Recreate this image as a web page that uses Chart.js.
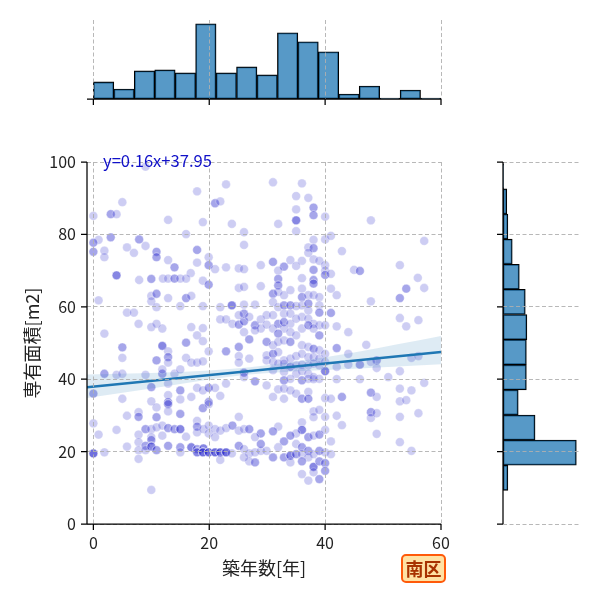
<!DOCTYPE html>
<html><head><meta charset="utf-8">
<script src="https://cdn.jsdelivr.net/npm/chart.js@4.4.1/dist/chart.umd.min.js"></script>
<style>
html,body{margin:0;padding:0;background:#fff;}
#wrap{position:relative;width:600px;height:600px;overflow:hidden;background:#fff;}
canvas{position:absolute;left:0;top:0;width:600px;height:600px;}
.eq{position:absolute;left:103px;top:150px;font-size:16.6px;font-family:'Noto Sans CJK JP','Noto Sans',sans-serif;color:#1010c8;line-height:20px;white-space:nowrap;}
.tag{position:absolute;left:401px;top:554px;width:45px;height:29px;box-sizing:border-box;border:2.5px solid #ff5a0a;border-radius:5px;background:#ffe2a4;color:#a83200;font-weight:bold;font-size:18px;font-family:'Noto Sans CJK JP',sans-serif;line-height:24px;text-align:center;}
</style></head>
<body><div id="wrap">
<canvas id="main" width="600" height="600"></canvas>
<canvas id="top" width="600" height="600"></canvas>
<canvas id="right" width="600" height="600"></canvas>
<div class="eq">y=0.16x+37.95</div>
<div class="tag">南区</div>
</div>
<script>
// ---- scatter data: building age [years], floor area [m2], number of overlapping points ----
const age = [
 9.0,22.9,17.9,5.0,21.0,21.9,0,3.0,4.0,12.9,
 18.9,23.9,16.0,26.0,0.9,0,3.0,7.9,9.0,5.8,
 26.0,0,1.9,1.9,7.0,10.9,10.9,17.9,12.9,17.9,
 19.9,19.9,14.0,21.0,22.9,25.1,26.0,28.9,16.8,4.0,
 7.9,10.0,12.0,12.9,14.0,15.0,16.0,18.9,
 31.0,36.0,35.0,37.1,35.0,38.0,38.0,35.0,40.0,31.9,
 47.9,35.0,38.0,40.0,41.0,57.1,37.1,38.0,37.1,42.9,
 31.0,34.0,36.0,38.0,39.0,32.9,35.0,31.9,40.0,38.0,
 40.0,45.0,46.0,52.9,31.9,36.0,38.0,40.0,41.0,56.0,
 19.9,25.1,26.0,28.9,0.9,10.0,10.9,10.0,12.9,16.0,
 16.9,10.9,15.0,18.9,21.9,23.9,26.0,27.9,5.8,7.0,
 7.8,10.0,10.9,11.9,16.9,18.9,21.9,22.9,24.0,25.1,
 26.0,26.0,25.1,26.9,27.9,28.9,28.9,29.9,27.9,1.9,
 17.9,18.9,26.0,26.9,29.9,11.9,16.0,5.0,5.0,12.9,
 12.9,12.9,10.9,16.0,16.9,17.9,18.9,19.9,22.9,25.1,
 25.1,25.1,26.9,29.9,1.9,4.0,5.0,9.0,11.9,11.9,
 14.0,15.0,26.0,26.0,0,10.0,12.9,15.0,17.9,18.9,
 19.9,21.0,21.9,22.9,27.9,5.0,10.0,12.9,12.9,15.0,
 16.9,19.9,
 54.0,57.1,52.9,47.9,41.0,42.0,41.0,52.9,54.0,56.1,
 42.0,44.0,47.1,42.0,44.0,46.0,48.9,47.9,48.9,54.9,
 56.1,52.9,50.9,57.1,52.9,54.9,47.9,48.9,46.0,42.0,
 44.0,42.0,52.9,54.0,42.9,40.0,
 31.9,31.0,31.9,32.9,34.0,36.0,36.0,37.1,38.0,38.0,
 39.0,31.0,31.9,32.9,34.0,35.0,36.0,37.1,37.1,39.0,
 39.0,32.9,34.0,36.0,37.1,31.9,32.9,34.0,35.0,29.9,
 31.0,38.0,39.0,40.0,31.0,32.9,34.0,36.0,37.1,38.0,
 31.9,35.0,39.0,31.0,31.9,32.9,34.0,36.0,37.1,38.0,
 39.0,29.9,31.0,31.9,32.9,34.0,35.0,36.0,37.1,38.0,
 39.0,40.0,31.0,31.9,32.9,34.0,35.0,36.0,37.1,38.0,
 39.0,40.0,31.0,32.9,35.0,36.0,37.1,38.0,39.0,32.9,
 34.0,36.0,37.1,38.0,31.9,32.9,34.0,35.0,37.1,31.0,
 32.9,36.0,37.1,40.0,41.0,29.9,
 0,0.9,4.0,5.8,7.8,7.8,10.9,10.9,12.9,12.9,
 15.0,18.9,19.9,17.9,9.0,10.0,10.9,11.9,12.9,14.0,
 15.0,7.8,10.0,10.0,11.9,12.9,16.0,17.9,17.9,19.0,
 19.9,19.9,21.0,21.0,21.9,22.9,24.0,25.1,25.1,26.0,
 26.9,28.9,27.9,0,1.9,5.8,7.8,7.8,7.8,9.0,
 10.0,10.9,9.0,12.9,15.0,15.0,16.9,17.9,19.0,17.9,
 18.9,19.9,21.0,21.9,22.9,23.9,21.9,25.1,26.0,26.9,
 27.9,28.9,29.9,26.9,27.9,26.0,28.9,10.0,
 38.0,39.0,38.0,42.0,42.9,40.0,47.9,47.9,48.9,52.9,
 56.1,48.9,52.9,54.9,36.0,31.9,31.0,36.0,37.1,35.0,
 34.0,32.9,38.0,39.0,40.0,41.0,31.9,31.0,32.9,34.0,
 34.0,35.0,35.0,36.0,36.0,37.1,37.1,38.0,39.0,40.0,
 41.0,36.0,38.0,39.0,40.0,40.0,36.0,37.1,39.0,38.0
];
const area = [
 98.7,93.8,91.9,88.9,88.6,89.1,85.1,85.6,85.6,84.0,
 83.4,82.9,80.1,80.6,78.5,77.7,79.2,78.6,76.8,76.4,
 77.1,75.2,75.5,73.7,74.9,75.2,73.7,75.7,72.9,72.2,
 73.7,71.5,70.9,70.4,70.9,70.6,70.4,71.5,69.3,68.7,
 67.4,67.7,67.8,67.8,67.8,67.8,67.8,67.2,
 94.4,94.1,90.6,90.1,86.9,87.4,85.3,83.9,84.9,82.9,
 83.9,80.9,78.5,78.6,79.6,78.2,76.4,76.2,74.9,75.4,
 72.4,72.9,72.7,73.1,72.7,71.1,71.3,70.0,71.5,70.2,
 70.0,70.2,69.9,71.5,67.7,67.9,67.4,68.8,69.1,68.0,
 66.1,65.2,65.5,65.7,61.8,63.0,63.6,61.5,62.4,62.4,
 63.0,59.9,60.2,60.2,59.9,60.4,60.6,60.6,58.4,58.4,
 55.3,54.4,55.3,54.0,54.4,54.1,56.5,56.5,55.3,55.1,
 56.0,58.1,57.7,57.2,54.9,56.5,54.0,55.1,53.5,52.6,
 52.1,50.5,53.0,51.0,50.3,49.2,50.1,48.8,45.9,47.7,
 46.1,44.6,45.2,45.9,44.6,44.6,44.9,47.7,47.7,48.9,
 46.4,44.6,45.7,45.2,41.5,41.2,41.5,41.2,41.5,42.7,
 41.5,42.7,41.8,40.6,36.0,37.8,38.8,36.9,37.6,36.9,
 37.6,37.6,35.4,38.8,39.4,34.6,33.9,35.6,33.7,34.4,
 35.1,33.7,
 65.0,65.2,62.4,61.5,65.0,63.2,58.3,56.9,54.6,56.3,
 54.6,53.0,49.5,48.6,47.0,44.0,45.2,44.8,43.1,45.9,
 46.4,42.2,40.6,39.0,37.4,36.9,36.3,35.1,40.0,40.0,
 44.0,43.4,33.9,34.2,35.1,42.2,
 65.9,63.6,64.1,63.2,64.6,65.0,62.7,63.2,66.4,63.2,
 62.7,61.3,59.9,60.4,60.4,60.2,60.4,60.9,59.0,60.4,
 58.4,58.1,58.1,57.2,56.7,55.3,55.8,55.3,56.7,57.7,
 57.7,55.3,54.9,54.9,54.0,54.0,53.0,54.0,54.9,54.0,
 52.6,52.1,52.1,49.4,50.3,50.7,50.3,49.4,48.9,48.4,
 48.0,46.6,47.0,47.5,45.2,45.7,46.4,47.0,46.1,46.1,
 45.7,47.0,44.8,44.3,44.3,43.4,43.8,44.0,43.8,44.3,
 43.8,44.8,42.5,42.0,41.5,42.2,41.5,40.6,40.1,39.7,
 40.1,39.7,40.1,40.0,37.2,37.4,36.9,36.0,36.5,35.1,
 34.6,34.6,34.6,34.8,34.6,38.3,
 27.8,24.7,26.0,29.9,30.9,29.6,32.2,29.5,33.1,31.1,
 30.4,32.0,33.1,28.5,26.2,26.2,26.7,27.2,26.5,26.2,
 26.2,24.7,24.0,23.2,24.4,21.6,24.1,26.9,25.3,26.2,
 27.2,25.0,26.2,24.0,25.8,26.5,27.2,29.6,25.8,26.2,
 26.2,25.0,24.0,19.5,19.8,21.4,22.6,20.4,18.0,21.6,
 21.4,20.4,20.4,21.6,21.2,19.8,21.2,20.7,20.9,19.8,
 19.8,19.8,19.8,19.8,19.8,19.5,17.7,21.6,20.7,19.5,
 19.8,20.2,20.2,17.3,17.0,18.4,22.1,9.4,
 31.1,31.5,29.5,29.9,27.3,29.6,30.9,29.3,30.6,29.6,
 30.6,24.9,22.6,20.2,28.1,26.9,25.6,26.0,24.0,25.0,
 24.4,22.8,24.4,24.7,26.0,22.8,21.2,18.4,18.4,18.9,
 17.0,22.1,19.3,21.2,19.3,20.2,18.4,19.3,20.2,19.8,
 19.3,17.3,15.8,17.3,16.8,14.7,13.8,12.0,12.4,14.3
];
const overlap = [
 1,1,1,1,2,1,1,2,1,1,
 1,1,1,1,1,2,2,2,1,1,
 1,2,1,1,1,2,2,2,1,1,
 1,2,2,1,1,1,1,1,1,3,
 1,2,1,1,2,1,1,1,
 1,1,1,1,1,2,2,3,1,1,
 1,1,1,1,1,1,1,2,1,1,
 2,1,1,1,1,2,1,1,1,2,
 1,1,2,1,2,1,2,2,1,1,
 2,1,1,1,1,1,2,1,1,2,
 1,1,1,1,1,3,1,1,1,1,
 1,1,1,1,1,1,1,1,1,2,
 2,2,1,1,2,1,1,1,1,1,
 1,1,1,2,2,3,2,2,1,1,
 2,1,2,1,1,1,1,1,2,2,
 1,1,1,1,2,1,1,1,2,1,
 1,1,2,1,2,2,1,2,1,1,
 2,1,1,1,2,1,1,1,2,1,
 1,2,
 2,1,2,1,1,1,2,1,1,1,
 1,1,1,2,1,2,2,1,1,1,
 1,1,1,1,1,1,2,1,1,1,
 1,1,1,1,2,3,
 2,2,1,1,1,1,2,1,2,1,
 1,1,1,2,2,1,1,2,1,1,
 2,1,1,1,1,2,2,1,1,1,
 1,1,1,1,1,1,1,1,2,1,
 2,1,2,1,1,1,2,1,1,2,
 1,1,2,1,1,1,1,1,1,1,
 1,1,1,1,1,2,1,1,1,1,
 1,1,1,1,1,1,1,1,1,2,
 1,2,1,1,1,1,1,1,1,1,
 1,2,2,1,1,1,
 1,1,1,1,1,2,1,2,2,1,
 2,2,1,1,2,1,1,1,2,2,
 3,1,1,2,1,1,1,2,1,1,
 1,1,1,1,1,1,2,1,1,1,
 2,2,1,4,1,1,1,1,1,2,
 3,2,1,1,2,1,3,2,3,3,
 4,4,4,4,4,1,1,2,1,1,
 1,1,1,1,2,1,2,1,
 1,1,1,1,1,1,2,1,1,1,
 1,1,1,1,1,1,2,3,2,1,
 2,2,1,2,1,1,1,2,2,3,
 1,1,2,2,1,2,1,1,2,1,
 1,2,3,2,2,2,1,1,2,1
];
// ---- regression (as printed on the chart) and its confidence band ----
const slope = 0.16, intercept = 37.95;
const lineX = [-1.1, 60];
const bandX    = [-1.1, 10,   20,   27,   35,   45,   60];
const bandLow  = [34.8, 37.4, 39.9, 41.3, 42.2, 42.9, 44.1];
const bandHigh = [41.3, 41.7, 42.4, 43.3, 44.9, 47.4, 51.9];
// ---- marginal histograms ----
const ageBinStart = 0, ageBinWidth = 60 / 17;
const ageCounts = [17,10,28,29,26,75,26,32,24,66,57,47,5,13,1,9,1];
const areaBinStart = 9.3, areaBinWidth = 6.94;
const areaCounts = [9,135,59,28,43,43,44,41,30,17,9,7,1];
// ---- ticks ----
const xTicks = [0,20,40,60];
const yTicks = [0,20,40,60,80,100];

Chart.defaults.font.family = "'Noto Sans CJK JP','Noto Sans',sans-serif";
Chart.defaults.color = '#222';
Chart.defaults.animation = false;

const GRID = '#b0b0b0';
const TICK_LEN = 6;
const fixTicks = vals => s => { s.ticks = vals.map(v => ({value: v})); };
const gridOpts = {color: GRID, lineWidth: 0.9, z: 1, offset: false, drawTicks: false};
const borderOpts = {display: false, dash: [4, 2.5]};
const HIST_FILL = 'rgba(31,119,180,0.75)';

// spines + outward tick marks, positioned through the chart's own scales
const spines = {
  id: 'spines',
  afterDraw(chart, args, opts) {
    const ctx = chart.ctx, a = chart.chartArea;
    ctx.save();
    ctx.strokeStyle = '#000'; ctx.lineWidth = 1.25; ctx.setLineDash([]);
    (opts.axes || []).forEach(id => {
      const s = chart.scales[id];
      ctx.beginPath();
      if (s.isHorizontal()) {
        const y = a.bottom;
        ctx.moveTo(a.left, y); ctx.lineTo(a.right, y);
        s.ticks.forEach(t => { const x = s.getPixelForValue(t.value); ctx.moveTo(x, y); ctx.lineTo(x, y + TICK_LEN); });
      } else {
        const x = a.left;
        ctx.moveTo(x, a.top); ctx.lineTo(x, a.bottom);
        s.ticks.forEach(t => { const y = s.getPixelForValue(t.value); ctx.moveTo(x, y); ctx.lineTo(x - TICK_LEN, y); });
      }
      ctx.stroke();
    });
    ctx.restore();
  }
};

const points = [];
age.forEach((a, i) => { for (let k = 0; k < overlap[i]; k++) points.push({x: a, y: area[i]}); });

new Chart(document.getElementById('main'), {
  type: 'scatter',
  plugins: [spines],
  data: {datasets: [
    {type: 'line', data: lineX.map(x => ({x, y: intercept + slope * x})), showLine: true,
     borderColor: '#1f77b4', borderWidth: 2.5, pointRadius: 0, fill: false, order: 0},
    {type: 'line', data: bandX.map((x, i) => ({x, y: bandLow[i]})), showLine: true, borderWidth: 0,
     borderColor: 'rgba(0,0,0,0)', pointRadius: 0, fill: false, cubicInterpolationMode: 'monotone', order: 1},
    {type: 'line', data: bandX.map((x, i) => ({x, y: bandHigh[i]})), showLine: true, borderWidth: 0,
     borderColor: 'rgba(0,0,0,0)', pointRadius: 0, backgroundColor: 'rgba(31,119,180,0.15)', fill: 1,
     cubicInterpolationMode: 'monotone', order: 2},
    {data: points, pointRadius: 4.4, pointBackgroundColor: 'rgba(20,20,200,0.21)',
     pointBorderColor: 'rgba(255,255,255,0.3)', pointBorderWidth: 1, order: 3}
  ]},
  options: {
    responsive: false, animation: false, events: [],
    layout: {padding: {left: 0, top: 162, right: 159, bottom: 0}},
    plugins: {legend: {display: false}, tooltip: {enabled: false}, spines: {axes: ['x', 'y']}},
    scales: {
      x: {type: 'linear', min: -1.1, max: 60, afterBuildTicks: fixTicks(xTicks), afterFit: s => { s.height = 76; },
          grid: gridOpts, border: borderOpts,
          ticks: {padding: 9, font: {size: 16}, color: '#222', maxRotation: 0},
          title: {display: true, text: '築年数[年]', font: {size: 18}, color: '#222', padding: {top: 0, bottom: 21}}},
      y: {type: 'linear', min: 0, max: 100, afterBuildTicks: fixTicks(yTicks), afterFit: s => { s.width = 87; },
          grid: gridOpts, border: borderOpts,
          ticks: {padding: 11, font: {size: 16}, color: '#222'},
          title: {display: true, text: '専有面積[m2]', font: {size: 18}, color: '#222', padding: {top: 21, bottom: 0}}}
    }
  }
});

new Chart(document.getElementById('top'), {
  type: 'bar',
  plugins: [spines],
  data: {datasets: [{
    data: ageCounts.map((c, i) => ({x: ageBinStart + (i + 0.5) * ageBinWidth, y: c})),
    backgroundColor: HIST_FILL, borderColor: '#000', borderWidth: 1.1, borderSkipped: false,
    barPercentage: 1, categoryPercentage: 1}]},
  options: {
    responsive: false, animation: false, events: [],
    layout: {padding: {left: 87, top: 20, right: 159, bottom: 0}},
    plugins: {legend: {display: false}, tooltip: {enabled: false}, spines: {axes: ['x']}},
    scales: {
      x: {type: 'linear', offset: false, min: -1.1, max: 60, afterBuildTicks: fixTicks(xTicks),
          afterFit: s => { s.height = 501; }, grid: gridOpts, border: borderOpts, ticks: {display: false}},
      y: {display: false, min: 0, max: 78.75}
    }
  }
});

new Chart(document.getElementById('right'), {
  type: 'bar',
  plugins: [spines],
  data: {datasets: [{
    data: areaCounts.map((c, i) => ({y: areaBinStart + (i + 0.5) * areaBinWidth, x: c})),
    backgroundColor: HIST_FILL, borderColor: '#000', borderWidth: 1.1, borderSkipped: false,
    barPercentage: 1, categoryPercentage: 1}]},
  options: {
    indexAxis: 'y', responsive: false, animation: false, events: [],
    layout: {padding: {left: 0, top: 162, right: 20, bottom: 76}},
    plugins: {legend: {display: false}, tooltip: {enabled: false}, spines: {axes: ['y']}},
    scales: {
      y: {type: 'linear', position: 'left', offset: false, min: 0, max: 100, afterBuildTicks: fixTicks(yTicks),
          afterFit: s => { s.width = 503; }, grid: gridOpts, border: borderOpts, ticks: {display: false}},
      x: {display: false, min: 0, max: 141.75}
    }
  }
});
</script>
</body></html>
